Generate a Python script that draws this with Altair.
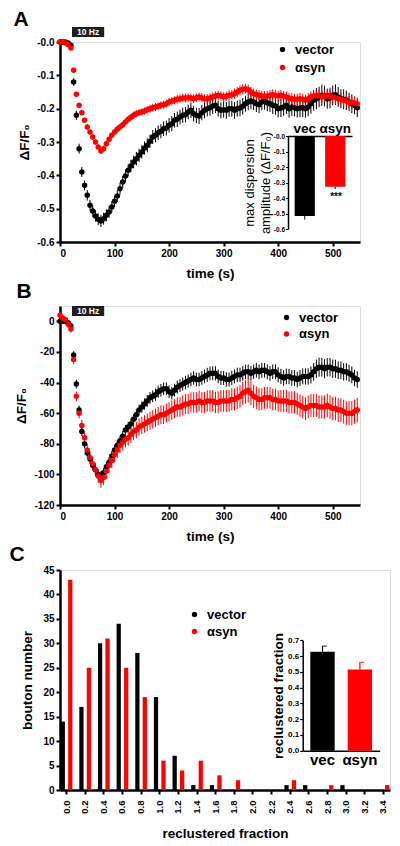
import altair as alt
import pandas as pd

FONT = "Liberation Sans"
BLACK = "#000000"
RED = "#ff0000"

# ---------------- data ----------------
series_names = ["vector", "αsyn"]
panel_letters = ["A", "B", "C"]
stim_window = [22, 81]
stim_label = ["10 Hz"]

time_s = [
    0, 5, 10, 15, 20, 25, 30, 35, 40, 45,
    50, 55, 60, 65, 70, 75, 80, 85, 90, 95,
    100, 105, 110, 115, 120, 125, 130, 135, 140, 145,
    150, 155, 160, 165, 170, 175, 180, 185, 190, 195,
    200, 205, 210, 215, 220, 225, 230, 235, 240, 245,
    250, 255, 260, 265, 270, 275, 280, 285, 290, 295,
    300, 305, 310, 315, 320, 325, 330, 335, 340, 345,
    350, 355, 360, 365, 370, 375, 380, 385, 390, 395,
    400, 405, 410, 415, 420, 425, 430, 435, 440, 445,
    450, 455, 460, 465, 470, 475, 480, 485, 490, 495,
    500, 505, 510, 515, 520, 525, 530, 535, 540, 545,
]

a_vector = [
    0.0, 0.0, 0.0, -0.003, -0.01, -0.12, -0.22, -0.32, -0.39, -0.43,
    -0.46, -0.49, -0.507, -0.522, -0.532, -0.537, -0.53, -0.52, -0.51, -0.495,
    -0.478, -0.462, -0.44, -0.42, -0.402, -0.385, -0.372, -0.36, -0.35, -0.34,
    -0.33, -0.318, -0.31, -0.298, -0.285, -0.28, -0.272, -0.268, -0.26, -0.258,
    -0.25, -0.245, -0.235, -0.232, -0.225, -0.22, -0.218, -0.21, -0.205, -0.215,
    -0.22, -0.222, -0.212, -0.205, -0.2, -0.197, -0.192, -0.19, -0.2, -0.205,
    -0.203, -0.205, -0.2, -0.2, -0.205, -0.2, -0.198, -0.193, -0.185, -0.18,
    -0.177, -0.18, -0.185, -0.188, -0.18, -0.178, -0.182, -0.185, -0.19, -0.192,
    -0.2, -0.198, -0.195, -0.19, -0.2, -0.195, -0.197, -0.2, -0.198, -0.197,
    -0.2, -0.195, -0.185, -0.175, -0.17, -0.165, -0.16, -0.162, -0.17, -0.168,
    -0.16, -0.158, -0.165, -0.17, -0.172, -0.175, -0.18, -0.185, -0.19, -0.197,
]
a_vector_err = [
    0.004, 0.004, 0.004, 0.005, 0.006, 0.012, 0.014, 0.015, 0.015, 0.015,
    0.016, 0.016, 0.017, 0.017, 0.018, 0.018, 0.018, 0.018, 0.017, 0.017,
    0.017, 0.018, 0.018, 0.018, 0.019, 0.018, 0.019, 0.019, 0.02, 0.02,
    0.02, 0.02, 0.021, 0.02, 0.021, 0.021, 0.022, 0.021, 0.022, 0.022,
    0.022, 0.023, 0.022, 0.023, 0.022, 0.023, 0.023, 0.022, 0.023, 0.024,
    0.023, 0.024, 0.023, 0.024, 0.023, 0.024, 0.024, 0.023, 0.024, 0.024,
    0.024, 0.025, 0.024, 0.024, 0.025, 0.024, 0.025, 0.025, 0.024, 0.025,
    0.025, 0.024, 0.025, 0.026, 0.025, 0.025, 0.026, 0.025, 0.026, 0.026,
    0.026, 0.027, 0.026, 0.026, 0.027, 0.027, 0.026, 0.027, 0.027, 0.028,
    0.027, 0.028, 0.03, 0.031, 0.032, 0.031, 0.032, 0.031, 0.03, 0.031,
    0.03, 0.031, 0.03, 0.029, 0.03, 0.029, 0.028, 0.028, 0.027, 0.028,
]
a_asyn = [
    0.0, 0.0, -0.003, -0.008, -0.018, -0.085, -0.157, -0.19, -0.212, -0.235,
    -0.255, -0.27, -0.285, -0.3, -0.315, -0.327, -0.32, -0.305, -0.292, -0.28,
    -0.27, -0.262, -0.255, -0.248, -0.24, -0.232, -0.226, -0.22, -0.215, -0.212,
    -0.21, -0.207, -0.203, -0.2, -0.197, -0.195, -0.193, -0.19, -0.188, -0.185,
    -0.18, -0.178, -0.175, -0.172, -0.17, -0.168, -0.168, -0.167, -0.168, -0.17,
    -0.167, -0.165, -0.167, -0.17, -0.17, -0.168, -0.165, -0.162, -0.16, -0.162,
    -0.165, -0.163, -0.16, -0.158, -0.155, -0.15, -0.145, -0.142, -0.14, -0.143,
    -0.15, -0.155, -0.158, -0.16, -0.162, -0.163, -0.162, -0.16, -0.158, -0.16,
    -0.162, -0.16, -0.163, -0.165, -0.168, -0.17, -0.172, -0.172, -0.17, -0.172,
    -0.175, -0.17, -0.165, -0.162, -0.16, -0.162, -0.165, -0.163, -0.16, -0.163,
    -0.165, -0.167, -0.17, -0.172, -0.175, -0.177, -0.18, -0.182, -0.183, -0.185,
]
a_asyn_err = [
    0.003, 0.003, 0.003, 0.004, 0.005, 0.006, 0.007, 0.007, 0.007, 0.007,
    0.008, 0.008, 0.008, 0.008, 0.009, 0.009, 0.009, 0.009, 0.009, 0.009,
    0.009, 0.01, 0.01, 0.01, 0.01, 0.01, 0.01, 0.011, 0.011, 0.011,
    0.011, 0.011, 0.011, 0.012, 0.012, 0.012, 0.012, 0.012, 0.012, 0.012,
    0.012, 0.013, 0.012, 0.013, 0.013, 0.013, 0.013, 0.013, 0.013, 0.013,
    0.013, 0.013, 0.014, 0.013, 0.014, 0.014, 0.014, 0.014, 0.014, 0.014,
    0.014, 0.014, 0.015, 0.014, 0.015, 0.015, 0.015, 0.015, 0.015, 0.015,
    0.015, 0.015, 0.015, 0.016, 0.015, 0.016, 0.016, 0.016, 0.016, 0.016,
    0.016, 0.016, 0.016, 0.017, 0.016, 0.017, 0.017, 0.017, 0.017, 0.017,
    0.017, 0.017, 0.017, 0.018, 0.017, 0.018, 0.018, 0.018, 0.018, 0.018,
    0.018, 0.018, 0.018, 0.018, 0.019, 0.018, 0.019, 0.019, 0.019, 0.019,
]

b_vector = [
    0, 0, 0, -1, -3, -22, -41, -58, -72, -80,
    -86, -90, -94, -97, -100, -101, -99, -95, -92, -88,
    -84, -81, -78, -75, -71, -69, -67, -64, -61, -58,
    -56, -54, -52, -50, -49, -48, -46, -45, -44, -44,
    -46, -47, -45, -43, -42, -41, -40, -39, -38, -37,
    -38, -38, -37, -36, -35, -34, -34, -34, -36, -37,
    -37, -38, -38, -37, -36, -35, -35, -34, -33, -33,
    -34, -33, -32, -33, -32, -32, -33, -34, -33, -33,
    -35, -36, -37, -36, -36, -37, -37, -38, -37, -36,
    -36, -36, -35, -33, -31, -30, -30, -31, -30, -30,
    -31, -31, -32, -32, -33, -33, -34, -35, -37, -38,
]
b_vector_err = [
    1.0, 1.0, 1.2, 1.5, 2.0, 2.5, 2.8, 3.0, 3.0, 3.0,
    3.0, 3.1, 3.0, 3.2, 3.0, 3.1, 3.2, 3.0, 3.1, 3.2,
    3.2, 3.3, 3.2, 3.4, 3.3, 3.4, 3.5, 3.4, 3.5, 3.6,
    3.6, 3.7, 3.8, 3.8, 3.9, 4.0, 4.0, 4.1, 4.0, 4.1,
    4.2, 4.1, 4.2, 4.3, 4.2, 4.3, 4.4, 4.3, 4.4, 4.4,
    4.5, 4.4, 4.5, 4.5, 4.6, 4.5, 4.6, 4.6, 4.5, 4.6,
    4.6, 4.7, 4.6, 4.7, 4.6, 4.7, 4.7, 4.8, 4.7, 4.8,
    4.8, 4.7, 4.8, 4.8, 4.9, 4.8, 4.9, 4.9, 4.8, 4.9,
    4.9, 5.0, 5.0, 5.1, 5.0, 5.1, 5.2, 5.1, 5.2, 5.2,
    5.3, 5.4, 5.6, 5.8, 6.0, 6.2, 6.1, 6.2, 6.0, 6.1,
    6.0, 5.9, 5.8, 5.8, 5.7, 5.6, 5.5, 5.5, 5.4, 5.4,
]
b_asyn = [
    4, 2, 1, -2, -5, -25, -49, -60, -68, -76,
    -84, -89, -93, -97, -101, -104, -102, -98, -94, -91,
    -87, -84, -81, -79, -77, -76, -74, -72, -71, -69,
    -68, -67, -66, -65, -64, -63, -62, -61, -61, -60,
    -59, -58, -57, -56, -56, -55, -54, -54, -53, -53,
    -53, -52, -53, -53, -52, -52, -52, -53, -53, -52,
    -52, -52, -52, -51, -51, -50, -49, -47, -46, -45,
    -47, -49, -50, -51, -51, -50, -50, -50, -51, -51,
    -52, -52, -52, -52, -53, -53, -53, -54, -55, -56,
    -57, -56, -55, -55, -55, -56, -56, -56, -55, -56,
    -57, -57, -58, -58, -59, -60, -60, -60, -59, -58,
]
b_asyn_err = [
    2.0, 2.0, 2.0, 2.2, 2.4, 3.0, 3.2, 3.5, 3.8, 4.0,
    4.0, 4.2, 4.3, 4.4, 4.5, 4.8, 5.0, 5.0, 5.1, 5.0,
    5.1, 5.2, 5.2, 5.3, 5.3, 5.4, 5.4, 5.5, 5.5, 5.6,
    5.6, 5.7, 5.7, 5.8, 5.9, 6.0, 6.0, 6.1, 6.1, 6.2,
    6.2, 6.3, 6.3, 6.4, 6.4, 6.5, 6.5, 6.6, 6.6, 6.7,
    6.7, 6.8, 6.8, 6.9, 6.9, 7.0, 7.0, 7.0, 7.1, 7.1,
    7.1, 7.2, 7.2, 7.3, 7.3, 7.4, 7.5, 7.6, 7.8, 8.0,
    7.8, 7.6, 7.4, 7.3, 7.2, 7.2, 7.1, 7.1, 7.0, 7.0,
    7.0, 7.1, 7.1, 7.2, 7.2, 7.2, 7.3, 7.3, 7.3, 7.4,
    7.4, 7.4, 7.5, 7.5, 7.5, 7.6, 7.6, 7.6, 7.7, 7.7,
    7.7, 7.7, 7.8, 7.8, 7.8, 7.8, 7.9, 7.9, 7.9, 8.0,
]

inset_a_groups = ["vec", "αsyn"]
inset_a_values = [-0.516, -0.327]
inset_a_errors = [0.024, 0.015]
inset_a_sig = ["", "***"]

hist_bins = ["0.0", "0.2", "0.4", "0.6", "0.8", "1.0", "1.2", "1.4", "1.6",
             "1.8", "2.0", "2.2", "2.4", "2.6", "2.8", "3.0", "3.2", "3.4"]
hist_vector = [14, 17, 30, 34, 28, 19, 7, 1, 1, 0, 0, 0, 1, 1, 0, 1, 0, 0]
hist_asyn = [43, 25, 31, 25, 19, 6, 4, 6, 3, 2, 0, 0, 2, 0, 1, 0, 0, 1]

inset_c_groups = ["vec", "αsyn"]
inset_c_values = [0.627, 0.515]
inset_c_errors = [0.036, 0.045]

# ---------------- helpers ----------------
color_scale = alt.Scale(domain=series_names, range=[BLACK, RED])
group_color = alt.Scale(domain=inset_a_groups, range=[BLACK, RED])


def main_axis(**kw):
    base = dict(domainWidth=2.5, domainColor=BLACK, tickWidth=2, tickSize=4,
                tickColor=BLACK, labelFontSize=10, labelFontWeight="bold",
                labelColor=BLACK, labelFont=FONT, titleFontSize=13.5,
                titleFontWeight="bold", titleColor=BLACK, titleFont=FONT,
                grid=False)
    base.update(kw)
    return alt.Axis(**base)


def legend(x, y, rowpad):
    return alt.Legend(orient="none", legendX=x, legendY=y, title=None,
                      labelFontSize=13, labelFontWeight="bold", labelFont=FONT,
                      labelColor=BLACK, symbolType="circle", symbolSize=28,
                      symbolStrokeWidth=0, rowPadding=rowpad, labelOffset=6,
                      padding=0)


def long_frame(vec, vec_err, syn, syn_err):
    rows = []
    for t, v, e in zip(time_s, vec, vec_err):
        rows.append({"t": t, "v": v, "e": e, "series": series_names[0]})
    for t, v, e in zip(time_s, syn, syn_err):
        rows.append({"t": t, "v": v, "e": e, "series": series_names[1]})
    return pd.DataFrame(rows)


def letter_layer(letter, dx, dy):
    return alt.Chart(pd.DataFrame({"letter": [letter]})).mark_text(
        fontSize=21, fontWeight="bold", font=FONT, color=BLACK,
        align="center", baseline="middle"
    ).encode(text="letter:N", x=alt.value(dx), y=alt.value(dy))


def stim_layers(xs, y0, y1):
    df = pd.DataFrame({"s": [stim_window[0]], "e": [stim_window[1]], "label": stim_label})
    box = alt.Chart(df).mark_rect(color="#1e1e1e").encode(
        x=alt.X("s:Q", scale=xs, axis=None), x2="e:Q",
        y=alt.value(y0), y2=alt.value(y1))
    txt = alt.Chart(df).transform_calculate(m="(datum.s + datum.e) / 2").mark_text(
        color="white", fontWeight="bold", fontSize=8.5, font=FONT,
        baseline="middle", align="center"
    ).encode(x=alt.X("m:Q", scale=xs, axis=None), y=alt.value((y0 + y1) / 2),
             text="label:N")
    return [box, txt]


def trace_layers(df, ydomain, yticks, label_expr, leg):
    xs = alt.Scale(domain=[0, 550], nice=False, zero=False)
    ys = alt.Scale(domain=ydomain, nice=False, zero=False)
    base = alt.Chart(df)
    err = base.transform_calculate(
        lo="datum.v - datum.e", hi="datum.v + datum.e"
    ).mark_rule(strokeWidth=1).encode(
        x=alt.X("t:Q", scale=xs, axis=None),
        y=alt.Y("lo:Q", scale=ys, axis=None),
        y2="hi:Q",
        color=alt.Color("series:N", scale=color_scale, legend=None),
    )
    pts = base.mark_circle(size=30, opacity=1).encode(
        x=alt.X("t:Q", scale=xs,
                axis=main_axis(orient="bottom", values=[0, 100, 200, 300, 400, 500],
                               title="time (s)", titlePadding=8, labelPadding=2)),
        y=alt.Y("v:Q", scale=ys,
                axis=main_axis(orient="left", values=yticks, labelExpr=label_expr,
                               title="ΔF/F₀", titlePadding=5, labelPadding=2)),
        color=alt.Color("series:N", scale=color_scale, legend=leg),
    )
    return xs, [err, pts]


# ---------------- panel A ----------------
dfA = long_frame(a_vector, a_vector_err, a_asyn, a_asyn_err)
xsA, tracesA = trace_layers(
    dfA, [-0.6, 0.0], [-0.6, -0.5, -0.4, -0.3, -0.2, -0.1, 0.0],
    "datum.value == 0 ? '-0.0' : '-' + format(abs(datum.value), '.1f')",
    legend(216, 1, 4))

insetA = pd.DataFrame({"grp": inset_a_groups, "v": inset_a_values,
                       "e": inset_a_errors, "sig": inset_a_sig})
ixA = alt.Scale(domain=inset_a_groups, range=[228, 292], paddingInner=0.337,
                paddingOuter=0.219)
iyA = alt.Scale(domain=[-0.6, 0.0], range=[187, 94], nice=False)
barsA = alt.Chart(insetA).mark_bar().encode(
    x=alt.X("grp:N", scale=ixA, sort=None,
            axis=alt.Axis(orient="top", offset=-94, title=None, ticks=False,
                          labelAngle=0, labelFontSize=13.5, labelFontWeight="bold",
                          labelFont=FONT, labelColor=BLACK, labelPadding=1,
                          domainWidth=1.5, domainColor=BLACK, grid=False,
                          minExtent=0, maxExtent=0)),
    y=alt.Y("v:Q", scale=iyA,
            axis=alt.Axis(orient="left", offset=-228,
                          values=[-0.6, -0.5, -0.4, -0.3, -0.2, -0.1, 0.0],
                          labelExpr="datum.value == 0 ? '-0.0' : '-' + format(abs(datum.value), '.1f')",
                          labelFontSize=6.5, labelFontWeight="bold", labelFont=FONT,
                          labelColor=BLACK, labelPadding=1, tickSize=2.5, tickWidth=1,
                          tickColor=BLACK, domainWidth=1.5, domainColor=BLACK,
                          grid=False, title=["max dispersion", "amplitude (ΔF/F₀)"],
                          titleFontSize=13, titleFontWeight="normal", titleFont=FONT,
                          titleColor=BLACK, titlePadding=16, titleLineHeight=16,
                          minExtent=0, maxExtent=0)),
    color=alt.Color("grp:N", scale=group_color, legend=None),
)
errA = alt.Chart(insetA).transform_calculate(lo="datum.v - datum.e").mark_rule(
    strokeWidth=1, color=BLACK).encode(
    x=alt.X("grp:N", scale=ixA, sort=None, axis=None),
    y=alt.Y("v:Q", scale=iyA, axis=None), y2="lo:Q")
sigA = alt.Chart(insetA).transform_calculate(lo="datum.v - datum.e").mark_text(
    fontSize=10, fontWeight="bold", font=FONT, color=BLACK, baseline="top", dy=3
).encode(x=alt.X("grp:N", scale=ixA, sort=None, axis=None),
         y=alt.Y("lo:Q", scale=iyA, axis=None), text="sig:N")

panelA = alt.layer(
    *tracesA, *stim_layers(xsA, -15, -5), letter_layer(panel_letters[0], -39, -22),
    barsA, errA, sigA
).resolve_scale(x="independent", y="independent", color="independent").properties(
    width=300, height=200)

# ---------------- panel B ----------------
dfB = long_frame(b_vector, b_vector_err, b_asyn, b_asyn_err)
xsB, tracesB = trace_layers(
    dfB, [-120, 10], [-120, -100, -80, -60, -40, -20, 0],
    "datum.value == 0 ? '0' : '-' + format(abs(datum.value), 'd')",
    legend(220, 5, 2.5))
panelB = alt.layer(
    *tracesB, *stim_layers(xsB, 0, 10), letter_layer(panel_letters[1], -36, -14)
).resolve_scale(x="independent", y="independent", color="independent").properties(
    width=300, height=199)

# ---------------- panel C ----------------
hist_rows = []
for b, c in zip(hist_bins, hist_vector):
    hist_rows.append({"bin": b, "count": c, "series": series_names[0]})
for b, c in zip(hist_bins, hist_asyn):
    hist_rows.append({"bin": b, "count": c, "series": series_names[1]})
dfC = pd.DataFrame(hist_rows)

histC = alt.Chart(dfC).mark_bar().encode(
    x=alt.X("bin:N", sort=None,
            scale=alt.Scale(domain=hist_bins, paddingInner=0.34, paddingOuter=0.02),
            axis=main_axis(orient="bottom", labelAngle=270, labelFontSize=9.5,
                           labelPadding=6, title="reclustered fraction",
                           titlePadding=13)),
    xOffset=alt.XOffset("series:N", sort=None,
                        scale=alt.Scale(domain=series_names, paddingInner=0.43,
                                        paddingOuter=0.04)),
    y=alt.Y("count:Q", scale=alt.Scale(domain=[0, 45], nice=False),
            axis=main_axis(orient="left", values=[0, 5, 10, 15, 20, 25, 30, 35, 40, 45],
                           title="bouton number", titlePadding=8, labelPadding=2)),
    color=alt.Color("series:N", scale=color_scale, legend=legend(128, 38, 3)),
)

insetC = pd.DataFrame({"grp": inset_c_groups, "v": inset_c_values, "e": inset_c_errors})
ixC = alt.Scale(domain=inset_c_groups, range=[242.7, 319.7], paddingInner=0.348,
                paddingOuter=0.203)
iyC = alt.Scale(domain=[0, 0.7], range=[180.7, 70.3], nice=False)
barsC = alt.Chart(insetC).mark_bar().encode(
    x=alt.X("grp:N", scale=ixC, sort=None,
            axis=alt.Axis(orient="bottom", offset=-39.3, title=None, ticks=False,
                          labelAngle=0, labelFontSize=15, labelFontWeight="bold",
                          labelFont=FONT, labelColor=BLACK, labelPadding=2,
                          domainWidth=1.5, domainColor=BLACK, grid=False,
                          minExtent=0, maxExtent=0)),
    y=alt.Y("v:Q", scale=iyC,
            axis=alt.Axis(orient="left", offset=-242.7,
                          values=[0, 0.1, 0.2, 0.3, 0.4, 0.5, 0.6, 0.7], format=".1f",
                          labelFontSize=8, labelFontWeight="bold", labelFont=FONT,
                          labelColor=BLACK, labelPadding=1, tickSize=3, tickWidth=1.2,
                          tickColor=BLACK, domainWidth=1.5, domainColor=BLACK,
                          grid=False, title="reclustered fraction", titleFontSize=13.5,
                          titleFontWeight="bold", titleFont=FONT, titleColor=BLACK,
                          titlePadding=17, minExtent=0, maxExtent=0)),
    color=alt.Color("grp:N", scale=group_color, legend=None),
)
errC = alt.Chart(insetC).transform_calculate(hi="datum.v + datum.e").mark_rule(
    strokeWidth=1.2).encode(
    x=alt.X("grp:N", scale=ixC, sort=None, axis=None),
    y=alt.Y("v:Q", scale=iyC, axis=None), y2="hi:Q",
    color=alt.Color("grp:N", scale=group_color, legend=None))
capC = alt.Chart(insetC).transform_calculate(hi="datum.v + datum.e").mark_tick(
    thickness=1.2, size=5, xOffset=2).encode(
    x=alt.X("grp:N", scale=ixC, sort=None, axis=None),
    y=alt.Y("hi:Q", scale=iyC, axis=None),
    color=alt.Color("grp:N", scale=group_color, legend=None))

panelC = alt.layer(
    histC, letter_layer(panel_letters[2], -43, -15), barsC, errC, capC
).resolve_scale(x="independent", y="independent", color="independent").properties(
    width=330, height=220)

chart = alt.vconcat(panelA, panelB, panelC, spacing=0).resolve_scale(
    color="independent", xOffset="independent"
).resolve_legend(color="independent").properties(
    padding={"left": 0, "top": 0, "right": 0, "bottom": 0}
).configure_view(stroke=None).configure(font=FONT)

chart.save("out.html", embed_options={"renderer": "svg", "actions": False})
